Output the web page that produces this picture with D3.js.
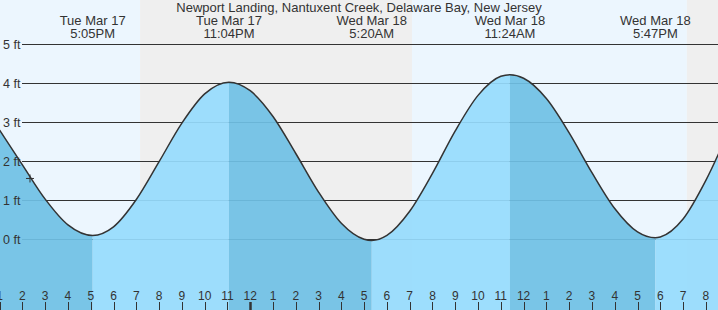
<!DOCTYPE html>
<html>
<head>
<meta charset="utf-8">
<script src="https://cdn.jsdelivr.net/npm/d3@7"></script>
<style>
  body { margin: 0; background: #fff; }
  svg text { font-family: "Liberation Sans", Arial, sans-serif; fill: #333; }
</style>
</head>
<body>
<div id="chart"></div>
<script>
// Chart title
const title = "Newport Landing, Nantuxent Creek, Delaware Bay, New Jersey";

// Tide height, local time (feet)
const tideTimes = [
    "2026-03-17 13:00", "2026-03-17 14:00", "2026-03-17 15:00", "2026-03-17 16:00",
    "2026-03-17 18:00", "2026-03-17 19:00", "2026-03-17 20:00", "2026-03-17 21:00",
    "2026-03-17 22:00", "2026-03-18 00:00", "2026-03-18 01:00", "2026-03-18 02:00",
    "2026-03-18 03:00", "2026-03-18 04:00", "2026-03-18 05:00", "2026-03-18 06:00",
    "2026-03-18 07:00", "2026-03-18 08:00", "2026-03-18 09:00", "2026-03-18 10:00",
    "2026-03-18 11:00", "2026-03-18 12:00", "2026-03-18 13:00", "2026-03-18 14:00",
    "2026-03-18 15:00", "2026-03-18 16:00", "2026-03-18 17:00", "2026-03-18 18:00",
    "2026-03-18 19:00", "2026-03-18 20:00", "2026-03-18 21:00"
];
const tideFeet = [
    2.80, 1.91, 1.03, 0.37,
    0.32, 1.02, 1.99, 2.98,
    3.73, 3.81, 3.15, 2.20,
    1.21, 0.41, 0.00, 0.10,
    0.72, 1.69, 2.78, 3.69,
    4.18, 4.13, 3.61, 2.73,
    1.71, 0.79, 0.19, 0.06,
    0.52, 1.51, 2.77
];

// High / low tide events
const eventTimes = ["2026-03-17 17:05", "2026-03-17 23:04", "2026-03-18 05:20", "2026-03-18 11:24", "2026-03-18 17:47"];
const eventFeet = [0.10, 4.03, -0.03, 4.22, 0.04];
const eventDays = ["Tue Mar 17", "Tue Mar 17", "Wed Mar 18", "Wed Mar 18", "Wed Mar 18"];
const eventClock = ["5:05PM", "11:04PM", "5:20AM", "11:24AM", "5:47PM"];

// Sunset / sunrise (day-night shading)
const sunTimes = ["2026-03-17 19:10", "2026-03-18 07:06", "2026-03-18 19:10"];

// Current time marker
const nowTime = "2026-03-17 14:20";
const nowFeet = 1.56;

const feetTicks = [0, 1, 2, 3, 4, 5];
const xStart = "2026-03-17 13:01";
const xEnd = "2026-03-18 20:32";

function drawTideChart() {
    const width = 718, height = 310;
    const parse = d3.timeParse("%Y-%m-%d %H:%M");

    const svg = d3.select("#chart")
        .append("svg")
        .attr("width", width)
        .attr("height", height);

    const x = d3.scaleTime()
        .domain([parse(xStart), parse(xEnd)])
        .range([0, width]);

    const y = d3.scaleLinear()
        .domain([0, 5])
        .range([239.3, 44.3]);

    // Merge samples and events into one curve
    const points = tideTimes.map((t, i) => ({ t: parse(t), v: tideFeet[i] }))
        .concat(eventTimes.map((t, i) => ({ t: parse(t), v: eventFeet[i] })))
        .sort((a, b) => a.t - b.t);

    // Day / night background
    const edges = [x.domain()[0]].concat(sunTimes.map(parse), [x.domain()[1]]);
    svg.append("g")
        .selectAll("rect")
        .data(d3.pairs(edges))
        .enter()
        .append("rect")
        .attr("x", d => x(d[0]))
        .attr("y", 0)
        .attr("width", d => x(d[1]) - x(d[0]))
        .attr("height", height)
        .style("fill", (d, i) => i % 2 === 0 ? "#ecf6fe" : "#efefef");

    // Grid lines
    svg.append("g")
        .selectAll("line")
        .data(feetTicks)
        .enter()
        .append("line")
        .attr("x1", 22)
        .attr("x2", width)
        .attr("y1", d => Math.round(y(d)) + 0.5)
        .attr("y2", d => Math.round(y(d)) + 0.5)
        .style("stroke", "#333")
        .style("stroke-width", 1);

    // Water fill, split at each high / low (falling darker, rising lighter)
    const area = d3.area()
        .x(d => x(d.t))
        .y0(height)
        .y1(d => y(d.v))
        .curve(d3.curveMonotoneX);

    svg.append("clipPath")
        .attr("id", "water")
        .append("path")
        .attr("d", area(points));

    const evDates = eventTimes.map(parse);
    const cuts = [x.domain()[0]].concat(evDates, [x.domain()[1]]);
    const segs = d3.pairs(cuts).map((d, i) => {
        // falling if the segment ends on a low
        const next = i < eventFeet.length ? eventFeet[i] : null;
        const prev = i > 0 ? eventFeet[i - 1] : null;
        const falling = next !== null ? next < 2 : prev > 2;
        return { a: d[0], b: d[1], falling: falling };
    });

    svg.append("g")
        .attr("clip-path", "url(#water)")
        .selectAll("rect")
        .data(segs)
        .enter()
        .append("rect")
        .attr("x", d => x(d.a))
        .attr("y", 0)
        .attr("width", d => x(d.b) - x(d.a))
        .attr("height", height)
        .style("fill", d => d.falling ? "#6fc0e5" : "#96dbfd")
        .style("opacity", 0.92);

    // Tide curve
    const line = d3.line()
        .x(d => x(d.t))
        .y(d => y(d.v))
        .curve(d3.curveMonotoneX);

    svg.append("path")
        .attr("d", line(points))
        .style("fill", "none")
        .style("stroke", "#333")
        .style("stroke-width", 1.5);

    // Y axis labels
    svg.append("g")
        .selectAll("text")
        .data(feetTicks)
        .enter()
        .append("text")
        .attr("x", 3)
        .attr("y", d => y(d) + 4.5)
        .style("font-size", "12.5px")
        .text(d => d + " ft");

    // Hour ticks along the bottom
    const hours = d3.timeHour.range(d3.timeHour.floor(x.domain()[0]), x.domain()[1]);
    const hourFmt = d3.timeFormat("%-I");
    const hg = svg.append("g");
    hg.selectAll("line")
        .data(hours)
        .enter()
        .append("line")
        .attr("x1", d => Math.round(x(d)) + 0.5)
        .attr("x2", d => Math.round(x(d)) + 0.5)
        .attr("y1", 302)
        .attr("y2", height)
        .style("stroke", "#333")
        .style("stroke-width", d => d.getHours() === 0 ? 2.5 : 1);
    hg.selectAll("text")
        .data(hours)
        .enter()
        .append("text")
        .attr("x", d => x(d))
        .attr("y", 299.5)
        .attr("text-anchor", "middle")
        .style("font-size", "12px")
        .text(d => hourFmt(d));

    // Event labels
    const eg = svg.append("g");
    eg.selectAll(".day")
        .data(evDates)
        .enter()
        .append("text")
        .attr("x", d => x(d))
        .attr("y", 25)
        .attr("text-anchor", "middle")
        .style("font-size", "13px")
        .text((d, i) => eventDays[i]);
    eg.selectAll(".clock")
        .data(evDates)
        .enter()
        .append("text")
        .attr("x", d => x(d))
        .attr("y", 37.5)
        .attr("text-anchor", "middle")
        .style("font-size", "13px")
        .text((d, i) => eventClock[i]);

    // Title
    svg.append("text")
        .attr("x", 359)
        .attr("y", 12)
        .attr("text-anchor", "middle")
        .style("font-size", "13px")
        .text(title);

    // Current time marker
    const nx = x(parse(nowTime)), ny = y(nowFeet);
    svg.append("path")
        .attr("d", `M${nx - 4},${ny}H${nx + 4}M${nx},${ny - 4}V${ny + 4}`)
        .style("stroke", "#333")
        .style("stroke-width", 1);
}

drawTideChart();
</script>
</body>
</html>
